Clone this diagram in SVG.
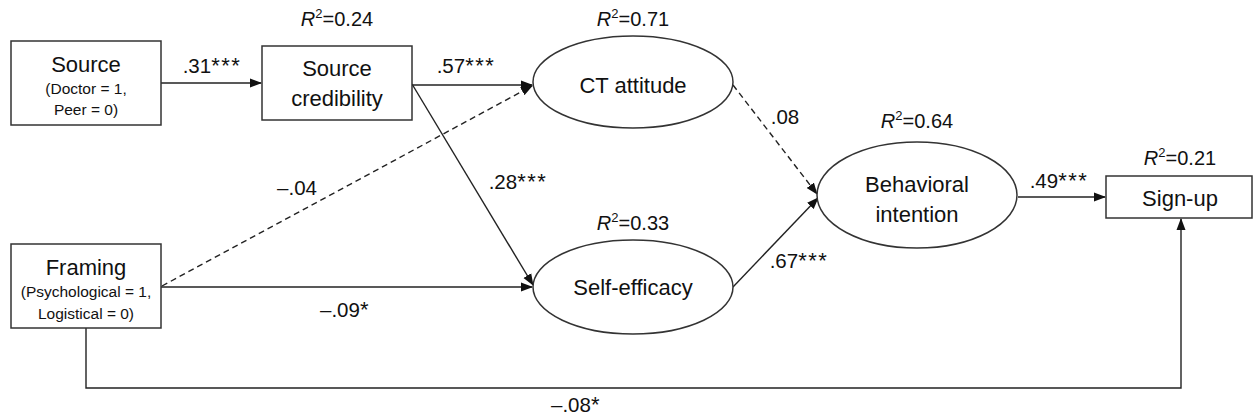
<svg xmlns="http://www.w3.org/2000/svg" width="1253" height="420" viewBox="0 0 1253 420">
<style>
.box{fill:#fff;stroke:#333;stroke-width:1.5}
.ell{fill:#fff;stroke:#333;stroke-width:1.5}
.t{font-family:"Liberation Sans",Arial,sans-serif;fill:#111;text-anchor:middle}
.big{font-size:22px}
.small{font-size:15.5px}
.lab{font-size:20.5px}
.ast{font-size:22px;letter-spacing:1.5px}
.r2{font-size:20px}
.ln{fill:none;stroke:#222;stroke-width:1.4}
.dash{stroke-dasharray:6 4}
</style>
<defs>
<marker id="ah" markerUnits="userSpaceOnUse" markerWidth="12" markerHeight="10" viewBox="0 0 12 10" refX="11" refY="5" orient="auto">
<path d="M0,0.5 L12,5 L0,9.5 Z" fill="#111"/>
</marker>
</defs>
<rect width="1253" height="420" fill="#fff"/>

<g id="connectors">
<line class="ln" x1="161" y1="83" x2="261" y2="83" marker-end="url(#ah)"/>
<line class="ln" x1="412" y1="85" x2="532" y2="85" marker-end="url(#ah)"/>
<line class="ln" x1="412" y1="84" x2="533" y2="285" marker-end="url(#ah)"/>
<line class="ln dash" x1="162" y1="286" x2="532" y2="86" marker-end="url(#ah)"/>
<line class="ln" x1="161" y1="287" x2="532" y2="287" marker-end="url(#ah)"/>
<line class="ln dash" x1="733" y1="85" x2="817" y2="194" marker-end="url(#ah)"/>
<line class="ln" x1="733" y1="287" x2="818" y2="198" marker-end="url(#ah)"/>
<line class="ln" x1="1018" y1="197" x2="1105" y2="197" marker-end="url(#ah)"/>
<polyline class="ln" points="86,328 86,388 1181,388 1181,219" marker-end="url(#ah)"/>
<text class="t lab" x="212" y="73">.31<tspan class="ast">***</tspan></text>
<text class="t lab" x="466" y="73">.57<tspan class="ast">***</tspan></text>
<text class="t lab" x="518" y="189">.28<tspan class="ast">***</tspan></text>
<text class="t lab" x="297" y="195">–.04</text>
<text class="t lab" x="345" y="317">–.09<tspan class="ast">*</tspan></text>
<text class="t lab" x="785" y="124">.08</text>
<text class="t lab" x="799" y="268">.67<tspan class="ast">***</tspan></text>
<text class="t lab" x="1059" y="188">.49<tspan class="ast">***</tspan></text>
<text class="t lab" x="576" y="412">–.08<tspan class="ast">*</tspan></text>
</g>

<g id="source">
<rect class="box" x="11" y="41" width="150" height="84"/>
<text class="t big" x="86" y="72">Source</text>
<text class="t small" x="86" y="94">(Doctor = 1,</text>
<text class="t small" x="86" y="115">Peer = 0)</text>
</g>

<g id="source-credibility">
<rect class="box" x="262" y="46" width="150" height="74"/>
<text class="t big" x="337" y="76">Source</text>
<text class="t big" x="337" y="106">credibility</text>
<text class="t r2" x="337" y="26"><tspan font-style="italic">R</tspan><tspan font-size="13" dy="-8">2</tspan><tspan dy="8">=0.24</tspan></text>
</g>

<g id="framing">
<rect class="box" x="11" y="244" width="150" height="84"/>
<text class="t big" x="86" y="275">Framing</text>
<text class="t small" x="86" y="297">(Psychological = 1,</text>
<text class="t small" x="86" y="319">Logistical = 0)</text>
</g>

<g id="ct-attitude">
<ellipse class="ell" cx="633" cy="82" rx="100" ry="46"/>
<text class="t big" x="633" y="93">CT attitude</text>
<text class="t r2" x="633" y="26"><tspan font-style="italic">R</tspan><tspan font-size="13" dy="-8">2</tspan><tspan dy="8">=0.71</tspan></text>
</g>

<g id="self-efficacy">
<ellipse class="ell" cx="633" cy="287" rx="100" ry="47"/>
<text class="t big" x="633" y="295">Self-efficacy</text>
<text class="t r2" x="633" y="230"><tspan font-style="italic">R</tspan><tspan font-size="13" dy="-8">2</tspan><tspan dy="8">=0.33</tspan></text>
</g>

<g id="behavioral-intention">
<ellipse class="ell" cx="917" cy="195" rx="100" ry="53"/>
<text class="t big" x="917" y="192">Behavioral</text>
<text class="t big" x="917" y="222">intention</text>
<text class="t r2" x="917" y="128"><tspan font-style="italic">R</tspan><tspan font-size="13" dy="-8">2</tspan><tspan dy="8">=0.64</tspan></text>
</g>

<g id="sign-up">
<rect class="box" x="1106" y="176" width="146" height="42"/>
<text class="t big" x="1180" y="206">Sign-up</text>
<text class="t r2" x="1180" y="165"><tspan font-style="italic">R</tspan><tspan font-size="13" dy="-8">2</tspan><tspan dy="8">=0.21</tspan></text>
</g>
</svg>
